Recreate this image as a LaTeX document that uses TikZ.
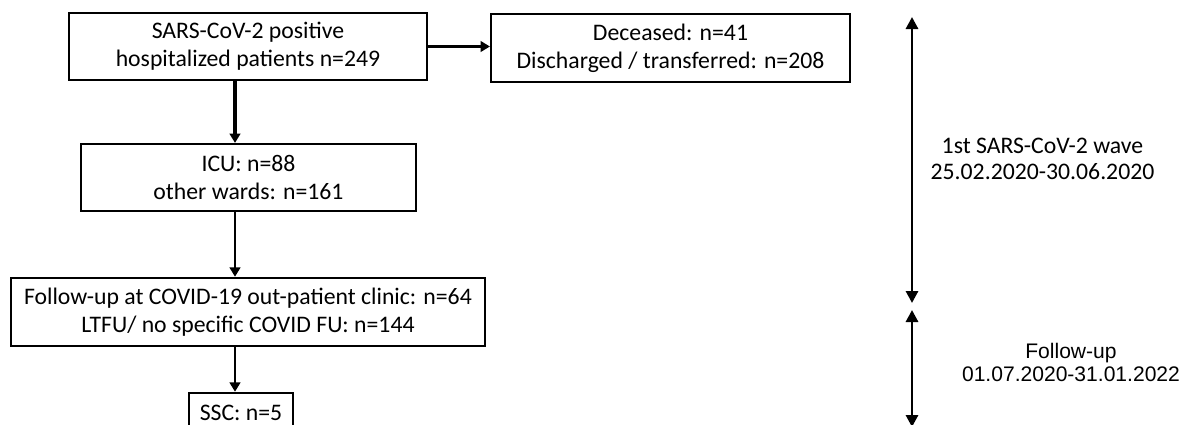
\documentclass[tikz,border=0pt]{standalone}
\usepackage{fontspec}
\setmainfont{Carlito}
\newfontfamily\arialfont{Liberation Sans}
\usetikzlibrary{arrows.meta}
\tikzset{>={Triangle[length=7pt,width=8pt]}}
\tikzset{
    box/.style={draw, line width=1.9pt, align=center, inner sep=0pt,
        font=\fontsize{17.8}{21}\selectfont},
    flow/.style={->, line width=1.6pt},
    period/.style={{Triangle[length=9pt,width=9pt]}-{Triangle[length=9pt,width=9pt]}, line width=2.2pt}
}

\begin{document}
\begin{tikzpicture}[x=0.75pt, y=-0.75pt]
    \clip (0,0) rectangle (1183,425);
    \node[box, minimum width=268.5pt, minimum height=50pt] (pos) at (248,46.5)
        {SARS-CoV-2 positive\\hospitalized patients n=249};
    \node[box, minimum width=269pt, minimum height=51pt] (out) at (670.5,48)
        {Deceased: n=41\\Discharged / transferred: n=208};
    \node[box, minimum width=251pt, minimum height=50pt] (icu) at (248.5,177.5)
        {ICU: n=88\\other wards: n=161};
    \node[box, minimum width=355.5pt, minimum height=51pt] (fu) at (248,312)
        {Follow-up at COVID-19 out-patient clinic: n=64\\LTFU/ no specific COVID FU: n=144};
    \node[box, minimum width=78pt, minimum height=30pt] (ssc) at (241,413)
        {SSC: n=5};
    \coordinate (spine) at (235,0);
    \draw[flow] (pos.east) -- (out.west |- pos.east);
    \draw[flow, line width=2.6pt] (pos.south -| spine) -- (icu.north -| spine);
    \draw[flow] (icu.south -| spine) -- (fu.north -| spine);
    \draw[flow] (fu.south -| spine) -- (ssc.north -| spine);
    % time periods
    \coordinate (w1top) at (912,17);
    \coordinate (w1bot) at (912,303);
    \coordinate (w2top) at (912,310);
    \coordinate (w2bot) at (912,427);
    \draw[period] (w1bot) -- (w1top);
    \draw[period] (w2bot) -- (w2top);
    \node[align=center, font=\fontsize{17.8}{19.5}\selectfont] (wave) at (1042.5,159)
        {1st SARS-CoV-2 wave\\25.02.2020-30.06.2020};
    \node[align=center, font=\arialfont\fontsize{15.8}{17.25}\selectfont] (fup) at (1071,362)
        {Follow-up\\01.07.2020-31.01.2022};
\end{tikzpicture}
\end{document}
